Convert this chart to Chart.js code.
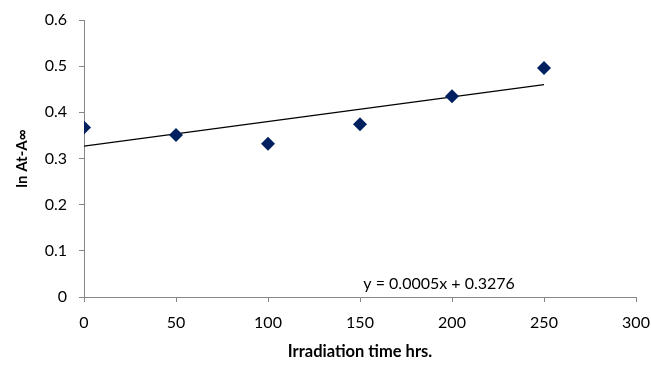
<!DOCTYPE html>
<html>
<head>
<meta charset="utf-8">
<script src="https://cdn.jsdelivr.net/npm/chart.js@4.4.0/dist/chart.umd.min.js"></script>
<style>
  html,body{margin:0;padding:0;background:#fff;}
  #wrap{width:651px;height:368px;position:relative;}
</style>
</head>
<body>
<div id="wrap"><canvas id="c" width="651" height="368"></canvas></div>
<script>
/* ===== 資料 ===== */
const hours=[0,50,100,150,200,250];
const lnValues=[0.367,0.351,0.332,0.374,0.435,0.496];
const trendX=[0,250];
const trendY=[0.327,0.460];
const xTicks=[0,50,100,150,200,250,300];
const yTicks=[0,0.1,0.2,0.3,0.4,0.5,0.6];
const equationText='y = 0.0005x + 0.3276';
const equationAt={x:193,y:0.028};

const FONT='Lato, "Liberation Sans", sans-serif';
const axisGray='#868686';

/* ===== 方程式標籤 ===== */
const eqLabel={
  id:'eqLabel',
  afterDatasetsDraw(chart){
    const {ctx,scales:{x,y}}=chart;
    ctx.save();
    ctx.font='16px '+FONT;
    ctx.fillStyle='#000';
    ctx.textAlign='center';
    ctx.textBaseline='middle';
    ctx.fillText(equationText, x.getPixelForValue(equationAt.x), y.getPixelForValue(equationAt.y));
    ctx.restore();
  }
};

new Chart(document.getElementById('c'),{
  type:'scatter',
  data:{
    datasets:[
      {
        label:'data',
        data:hours.map((h,i)=>({x:h,y:lnValues[i]})),
        pointStyle:'rectRot',
        pointRadius:7,
        pointHoverRadius:7,
        backgroundColor:'#002060',
        borderColor:'#002060',
        borderWidth:0,
        order:1
      },
      {
        label:'trend',
        type:'line',
        data:trendX.map((v,i)=>({x:v,y:trendY[i]})),
        borderColor:'#000',
        borderWidth:1.3,
        pointRadius:0,
        fill:false,
        order:2
      }
    ]
  },
  options:{
    responsive:false,
    animation:false,
    layout:{padding:{top:20,right:15,left:0,bottom:0}},
    plugins:{legend:{display:false},tooltip:{enabled:false}},
    scales:{
      x:{
        type:'linear',min:0,max:300,
        afterBuildTicks:s=>{s.ticks=xTicks.map(v=>({value:v}));},
        afterFit:s=>{s.height=71;s.paddingLeft=0;s.paddingRight=0;},
        grid:{drawOnChartArea:false,drawTicks:true,tickLength:5,color:axisGray},
        border:{color:axisGray,width:1},
        ticks:{color:'#000',font:{family:FONT,size:16},padding:11,maxRotation:0},
        title:{display:true,text:'Irradiation time hrs.',color:'#000',font:{family:FONT,size:16.5,weight:'bold'},padding:{bottom:6,top:0}}
      },
      y:{
        type:'linear',min:0,max:0.6,
        afterBuildTicks:s=>{s.ticks=yTicks.map(v=>({value:v}));},
        afterFit:s=>{s.width=84;s.paddingTop=0;s.paddingBottom=0;},
        grid:{drawOnChartArea:false,drawTicks:true,tickLength:5,color:axisGray},
        border:{color:axisGray,width:1},
        ticks:{color:'#000',font:{family:FONT,size:16},padding:12,callback:v=>String(Math.round(v*10)/10)},
        title:{display:true,text:'ln At-A∞',color:'#000',font:{family:FONT,size:15,weight:'bold'},padding:{top:13,bottom:0}}
      }
    }
  },
  plugins:[eqLabel]
});
</script>
</body>
</html>
